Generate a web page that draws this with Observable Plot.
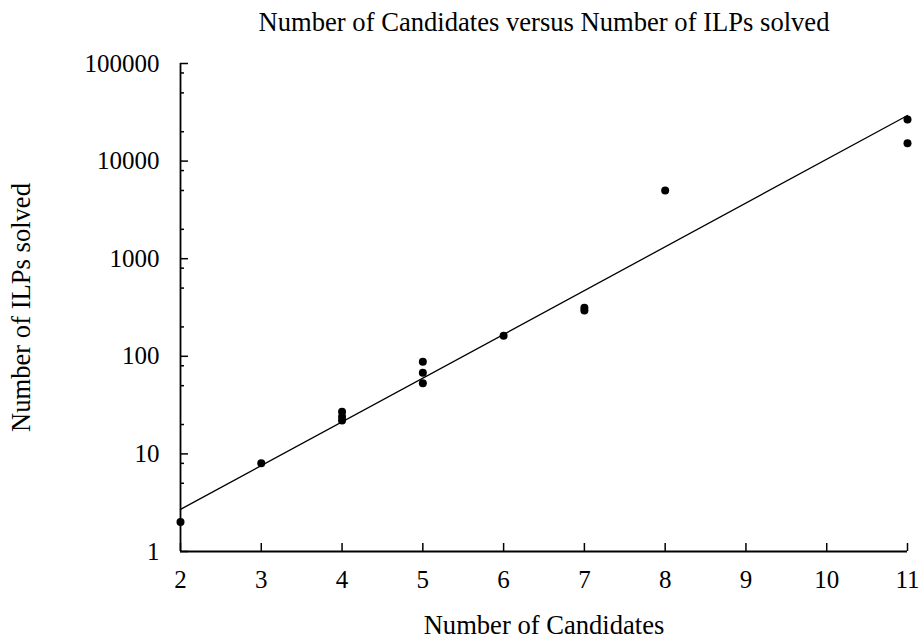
<!DOCTYPE html>
<html>
<head>
<meta charset="utf-8">
<script src="https://cdn.jsdelivr.net/npm/d3@7"></script>
<script src="https://cdn.jsdelivr.net/npm/@observablehq/plot@0.6"></script>
<style>
  html, body { margin: 0; padding: 0; background: #fff; }
</style>
</head>
<body>
<div id="chart"></div>
<script>
const title = "Number of Candidates versus Number of ILPs solved";
const xLabel = "Number of Candidates";
const yLabel = "Number of ILPs solved";

// observed runs
const candidates = [2, 3, 4, 4, 4, 5, 5, 5, 6, 7, 7, 8, 11, 11];
const ilps       = [2, 8, 22, 24, 27, 53, 68, 88, 162, 295, 315, 5000, 15200, 26700];

// fitted exponential trend line (endpoints)
const fitX = [2, 11];
const fitY = [2.7, 29300];

const xTicks = [2, 3, 4, 5, 6, 7, 8, 9, 10, 11];
const yMajor = [1, 10, 100, 1000, 10000, 100000];
const yMinorFactors = [2, 5, 8];
const yMinor = yMajor.slice(0, -1).flatMap(d => yMinorFactors.map(f => d * f));

const points = candidates.map((c, i) => ({c, n: ilps[i]}));
const fit = fitX.map((x, i) => ({x, y: fitY[i]}));

const W = 920, H = 640, mL = 180, mR = 13, mT = 63, mB = 89;
const fw = W - mL - mR, fh = H - mT - mB;

const chart = Plot.plot({
  width: W, height: H,
  marginLeft: mL, marginRight: mR, marginTop: mT, marginBottom: mB,
  style: {fontFamily: "'Liberation Serif', 'Times New Roman', serif", fontSize: "25px", background: "#fff", color: "#000"},
  x: {domain: [2, 11]},
  y: {type: "log", domain: [1, 100000]},
  marks: [
    Plot.axisX({ticks: xTicks, tickSize: 0, tickPadding: 19, tickFormat: d => String(d), label: null, fontSize: 25}),
    Plot.axisY({ticks: yMajor, tickSize: 0, tickPadding: 21, tickFormat: d => String(d), label: null, fontSize: 25}),
    Plot.ruleX([2], {stroke: "#000", strokeWidth: 1.8}),
    Plot.ruleY([1], {stroke: "#000", strokeWidth: 1.8}),
    Plot.tickX(xTicks, {x: d => d, insetTop: fh - 8, stroke: "#000", strokeWidth: 1.5}),
    Plot.tickY(yMajor, {y: d => d, insetRight: fw - 8, stroke: "#000", strokeWidth: 1.5}),
    Plot.tickY(yMinor, {y: d => d, insetRight: fw - 4, stroke: "#000", strokeWidth: 1.5}),
    Plot.line(fit, {x: "x", y: "y", stroke: "#000", strokeWidth: 1.3}),
    Plot.dot(points, {x: "c", y: "n", r: 4, fill: "#000", stroke: "none"}),
    Plot.text([title], {frameAnchor: "top", dy: -41, fontSize: 26.6, fill: "#000", textAnchor: "middle", lineAnchor: "middle"}),
    Plot.text([xLabel], {frameAnchor: "bottom", dy: 74, fontSize: 26.6, fill: "#000", textAnchor: "middle", lineAnchor: "middle"}),
    Plot.text([yLabel], {frameAnchor: "left", dx: -159, rotate: -90, fontSize: 26.6, fill: "#000", textAnchor: "middle", lineAnchor: "middle"})
  ]
});
document.getElementById("chart").appendChild(chart);
</script>
</body>
</html>
